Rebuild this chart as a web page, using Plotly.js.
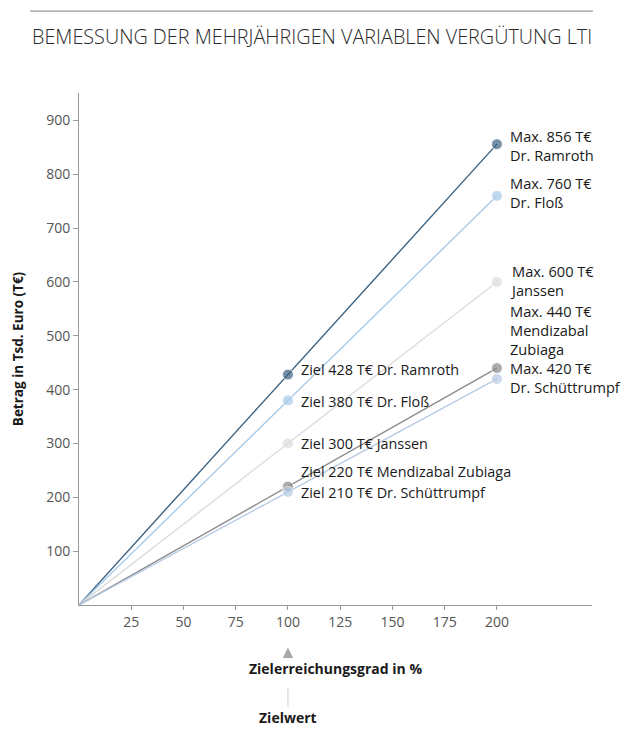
<!DOCTYPE html>
<html>
<head>
<meta charset="utf-8">
<script src="https://cdn.plot.ly/plotly-3.0.1.min.js"></script>
<style>html,body{margin:0;padding:0;background:#fff}#chart{width:624px;height:729px}</style>
</head>
<body>
<div id="chart"></div>
<script>
// ---- data ----
const names = ["Dr. Ramroth", "Dr. Floß", "Janssen", "Mendizabal Zubiaga", "Dr. Schüttrumpf"];
const maxNames = ["Dr. Ramroth", "Dr. Floß", "Janssen", "Mendizabal<br>Zubiaga", "Dr. Schüttrumpf"];
const zielerreichung = [0, 100, 200];
const zielWerte = [428, 380, 300, 220, 210];
const maxWerte = [856, 760, 600, 440, 420];
const xTicks = [25, 50, 75, 100, 125, 150, 175, 200];
const yTicks = [100, 200, 300, 400, 500, 600, 700, 800, 900];

// ---- styles ----
const colors = ["#3b6282", "#a9cbea", "#dcdcdc", "#8a8a8a", "#b7cbe5"];
const zielShift = [5, -1, 0, 15, -1];
const maxShift = [-1, 3, 1, 38, 1];
const FONT = "Open Sans, Lato, sans-serif";

const traces = names.map((n, i) => ({
  type: "scatter",
  mode: "lines+markers",
  name: n,
  x: zielerreichung,
  y: [0, zielWerte[i], maxWerte[i]],
  line: {color: colors[i], width: 1.4},
  marker: {color: colors[i], size: [0, 11, 11]},
  cliponaxis: false,
  hoverinfo: "skip"
}));

const annotations = [];
names.forEach((n, i) => {
  annotations.push({
    x: zielerreichung[1], y: zielWerte[i], xref: "x", yref: "y",
    text: "Ziel " + zielWerte[i] + " T€ " + n,
    showarrow: false, xanchor: "left", yanchor: "middle",
    xshift: 11, yshift: zielShift[i],
    font: {family: FONT, size: 14.4, color: "#1a1a1a"}
  });
  annotations.push({
    x: zielerreichung[2], y: maxWerte[i], xref: "x", yref: "y",
    text: "Max. " + maxWerte[i] + " T€<br>" + maxNames[i],
    showarrow: false, xanchor: "left", yanchor: "middle", align: "left",
    xshift: 11, yshift: maxShift[i],
    font: {family: FONT, size: 14.6, color: "#1a1a1a"}
  });
});
// arrow pointing to the Zielwert (100 %)
annotations.push({
  x: 100, xref: "x", y: -0.083, yref: "paper", text: "",
  showarrow: true, ax: 0, ay: 7, arrowhead: 2, arrowsize: 1.3, arrowwidth: 1.6,
  arrowcolor: "#a8a8a8"
});
annotations.push({
  x: 100, xref: "x", y: -0.162, yref: "paper", text: "<b>Zielwert</b>",
  showarrow: true, ax: 0, ay: 30, arrowhead: 0, arrowwidth: 1, arrowcolor: "#cfcfcf",
  font: {family: FONT, size: 14, color: "#1a1a1a"}
});

const layout = {
  width: 624, height: 729,
  margin: {l: 79, r: 32, t: 93, b: 124},
  paper_bgcolor: "#fff", plot_bgcolor: "#fff",
  showlegend: false,
  title: {
    text: "BEMESSUNG DER MEHRJÄHRIGEN VARIABLEN VERGÜTUNG LTI",
    x: 32 / 624, xref: "container", xanchor: "left",
    y: 1 - 37 / 729, yref: "container", yanchor: "middle",
    font: {family: FONT, size: 19.8, color: "#2a2a2a", weight: 300}
  },
  xaxis: {
    range: [0, 245.5], tickvals: xTicks, ticktext: xTicks.map(String),
    showline: true, linecolor: "#999", linewidth: 1,
    ticks: "outside", ticklen: 4, tickcolor: "#999",
    showgrid: false, zeroline: false,
    tickfont: {family: FONT, size: 14, color: "#555"},
    title: {text: "<b>Zielerreichungsgrad in %</b>", standoff: 34,
            font: {family: FONT, size: 14, color: "#1a1a1a"}}
  },
  yaxis: {
    range: [0, 951], tickvals: yTicks, ticktext: yTicks.map(String),
    showline: true, linecolor: "#999", linewidth: 1,
    ticks: "outside", ticklen: 5, tickcolor: "#999",
    showgrid: false, zeroline: false,
    tickfont: {family: FONT, size: 14, color: "#555"},
    title: {text: "<b>Betrag in Tsd. Euro (T€)</b>", standoff: 19,
            font: {family: FONT, size: 13.5, color: "#1a1a1a"}}
  },
  shapes: [{
    type: "line", xref: "paper", yref: "paper",
    x0: -0.0955, x1: 1.002, y0: 1.16, y1: 1.16,
    line: {color: "#9a9a9a", width: 1.2}
  }],
  annotations: annotations
};

Plotly.newPlot("chart", traces, layout, {displayModeBar: false, staticPlot: true});
</script>
</body>
</html>
